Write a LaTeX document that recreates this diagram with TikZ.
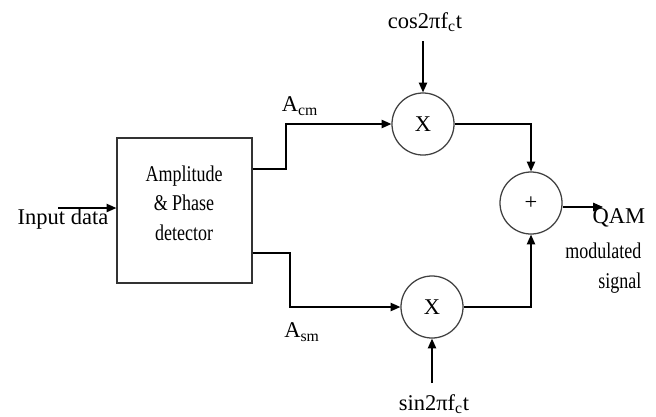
\documentclass[tikz,border=0pt]{standalone}
\usepackage{fontspec}
\setmainfont{Liberation Serif}
\newfontfamily\narrowfont{Liberation Serif}[FakeStretch=0.8]
\usetikzlibrary{arrows.meta, calc}

\tikzset{
    mixer/.style={draw=black!75, circle, minimum size=1.55cm, inner sep=0pt, font=\fontsize{16}{19}\selectfont},
    detbox/.style={draw=black!80, rectangle, minimum width=3.375cm, minimum height=3.625cm},
    lbl/.style={inner sep=0pt, font=\fontsize{16}{19}\selectfont},
    narrowlbl/.style={inner sep=0pt, align=center, font=\narrowfont\fontsize{16}{21}\selectfont}
}

\begin{document}
\begin{tikzpicture}[x=0.025cm, y=-0.025cm, >={Triangle[length=7pt, width=6pt]}, line width=0.9pt]
    \useasboundingbox (0,0) rectangle (656,416);
    % detector block
    \node[detbox] (det) at (184.5,210.5) {};
    \node[narrowlbl] (dettext) at (184,203) {Amplitude\\\& Phase\\detector};
    \node[lbl] (inp) at (63,219) {Input data};
    \draw[->] (58,208) -- (det.west |- {(0,208)});
    % mixers and adder
    \node[mixer] (mul1) at (423,124) {X};
    \node[mixer] (mul2) at (432,307) {X};
    \node[mixer] (add) at (531,203) {+};
    % carriers
    \node[lbl] (cosc) at (425,22) {cos2πf\textsubscript{c}t};
    \node[lbl] (sinc) at (434,404) {sin2πf\textsubscript{c}t};
    \draw[->] (mul1.north |- {(0,41)}) -- (mul1.north);
    \draw[->] (mul2.south |- {(0,383)}) -- (mul2.south);
    % branches
    \draw[->] (det.east |- {(0,169)}) -- (286,169) |- (mul1.west);
    \draw[->] (det.east |- {(0,253)}) -- (290,253) |- (mul2.west);
    \node[lbl] (acm) at (300,106) {A\textsubscript{cm}};
    \node[lbl] (asm) at (302,332) {A\textsubscript{sm}};
    \draw[->] (mul1.east) -| (add.north);
    \draw[->] (mul2.east) -| (add.south);
    % output
    \coordinate (qout) at (603,207);
    \draw[->] (add.east |- qout) -- (qout);
    \node[lbl, anchor=west] (qam) at (592,218) {QAM};
    \node[narrowlbl, align=right, anchor=east] (modsig) at (642,268) {modulated\\signal};
\end{tikzpicture}
\end{document}
